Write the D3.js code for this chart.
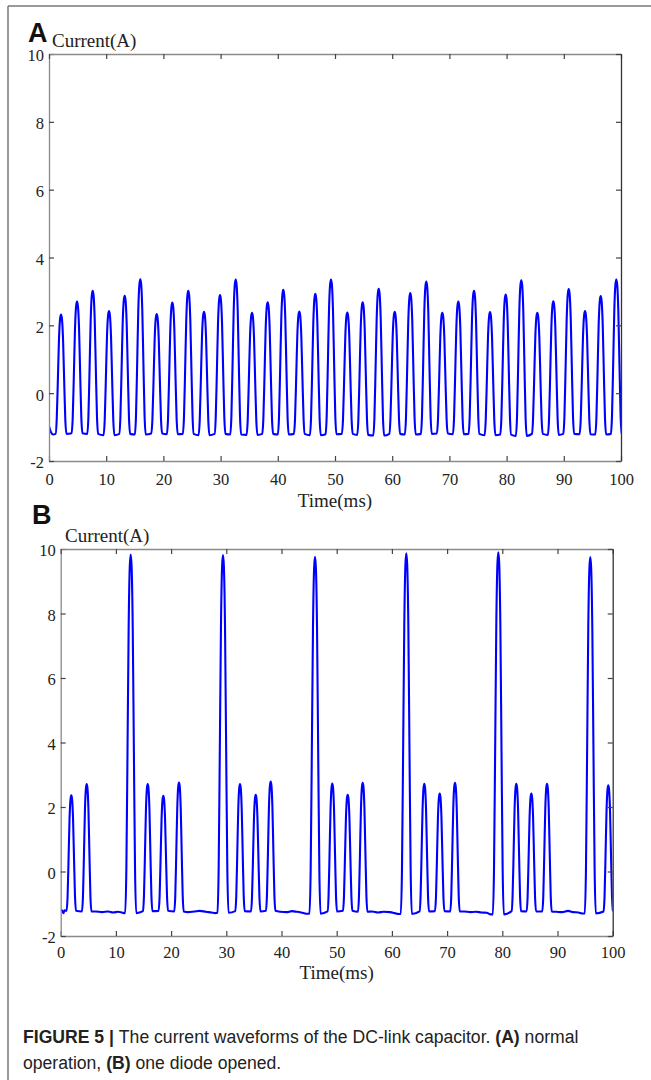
<!DOCTYPE html>
<html>
<head>
<meta charset="utf-8">
<script src="https://cdn.jsdelivr.net/npm/d3@7"></script>
<style>
  body { margin: 0; background: #fff; }
  svg { display: block; }
</style>
</head>
<body>
<div id="chart"></div>
<script>
// tick values shared by both panels
const xTicks = [0, 10, 20, 30, 40, 50, 60, 70, 80, 90, 100];
const yTicks = [-2, 0, 2, 4, 6, 8, 10];

// shape of one current pulse: [offset from peak (ms), fraction of the height above baseline]
const pulseShape = [[-0.95, 0], [-0.75, 0.12], [-0.55, 0.45], [-0.35, 0.8], [-0.15, 0.97], [0, 1],
    [0.15, 0.97], [0.35, 0.8], [0.55, 0.45], [0.75, 0.12], [0.95, 0]];

// (A) normal operation: peak times (ms), peak values (A), baseline before each pulse (A)
const peakTimesA = [2.10, 4.90, 7.64, 10.49, 13.23, 15.96, 18.83, 21.56, 24.35, 27.10, 29.90, 32.64,
    35.49, 38.23, 40.96, 43.76, 46.56, 49.30, 52.15, 54.84, 57.64, 60.44, 63.16, 65.96,
    68.76, 71.56, 74.30, 77.10, 79.84, 82.57, 85.37, 88.17, 90.86, 93.71, 96.45, 99.18];
const peakValuesA = [2.32, 2.70, 3.02, 2.42, 2.87, 3.36, 2.33, 2.67, 3.02, 2.40, 2.89, 3.35,
    2.37, 2.68, 3.05, 2.41, 2.93, 3.35, 2.38, 2.68, 3.08, 2.40, 2.95, 3.29,
    2.37, 2.70, 3.02, 2.39, 2.91, 3.33, 2.37, 2.71, 3.07, 2.42, 2.86, 3.35];
const baseA = [-1.2, -1.18, -1.2, -1.24, -1.2, -1.22, -1.19, -1.21, -1.2, -1.24, -1.2, -1.22,
    -1.23, -1.2, -1.22, -1.2, -1.24, -1.21, -1.2, -1.23, -1.25, -1.2, -1.22, -1.2,
    -1.19, -1.21, -1.2, -1.24, -1.22, -1.26, -1.2, -1.23, -1.2, -1.21, -1.22, -1.2];
const startA = [[0, -0.98], [0.35, -1.15], [0.7, -1.22]];

// (B) one diode opened
const peakTimesB = [1.92, 4.71, 12.68, 15.76, 18.59, 21.43, 29.40, 32.48, 35.33, 38.04, 46.07, 49.20,
    51.99, 54.71, 62.61, 65.87, 68.66, 71.43, 79.28, 82.54, 85.26, 88.10, 95.94, 99.20];
const peakValuesB = [2.36, 2.71, 9.83, 2.71, 2.35, 2.76, 9.81, 2.71, 2.38, 2.79, 9.76, 2.73,
    2.38, 2.75, 9.87, 2.72, 2.42, 2.75, 9.9, 2.72, 2.42, 2.72, 9.75, 2.67];
const baseB = [-1.22, -1.24, -1.29, -1.23, -1.22, -1.24, -1.28, -1.23, -1.24, -1.22, -1.31, -1.24,
    -1.22, -1.25, -1.32, -1.24, -1.23, -1.24, -1.33, -1.23, -1.24, -1.24, -1.3, -1.24];
const startB = [[0, -1.19], [0.3, -1.22], [0.5, -1.29], [0.7, -1.2]];
const gapPointsB = [[6.3, -1.24], [7.5, -1.26], [8.6, -1.24], [9.5, -1.27], [10.4, -1.25], [11.2, -1.28],
    [23.1, -1.26], [24.2, -1.24], [25.2, -1.22], [26.3, -1.25], [27.3, -1.27], [28.0, -1.29],
    [39.8, -1.25], [40.9, -1.26], [41.9, -1.23], [42.8, -1.25], [43.8, -1.28], [44.7, -1.31],
    [56.4, -1.24], [57.5, -1.27], [58.5, -1.25], [59.6, -1.26], [60.5, -1.29], [61.2, -1.32],
    [73.1, -1.24], [74.2, -1.26], [75.2, -1.25], [76.2, -1.27], [77.2, -1.28], [77.9, -1.33],
    [89.8, -1.25], [90.9, -1.26], [91.9, -1.22], [92.8, -1.26], [93.8, -1.27], [94.5, -1.3]];

function buildWave(start, times, values, bases, widthOf, extra) {
    let pts = start.slice();
    times.forEach((t, i) => {
        const w = widthOf(values[i]);
        pulseShape.forEach(([dt, f]) => pts.push([t + dt * w, bases[i] + f * (values[i] - bases[i])]));
    });
    pts = pts.concat(extra);
    pts.sort((a, b) => a[0] - b[0]);
    return pts;
}

const waveA = buildWave(startA, peakTimesA, peakValuesA, baseA, () => 1, []);
const waveB = buildWave(startB, peakTimesB, peakValuesB, baseB, v => v > 5 ? 1.05 : 0.9, gapPointsB);

const W = 651, H = 1080;
const serif = "'Liberation Serif', 'Times New Roman', serif";
const sans = "'Liberation Sans', Arial, sans-serif";

const svg = d3.select("#chart").append("svg")
    .attr("width", W)
    .attr("height", H)
    .style("background-color", "white");

// figure frame
svg.append("line").attr("x1", 8).attr("x2", W).attr("y1", 6).attr("y2", 6)
    .style("stroke", "#777").style("stroke-width", 1.5);
svg.append("line").attr("x1", 8).attr("x2", 8).attr("y1", 6).attr("y2", H)
    .style("stroke", "#777").style("stroke-width", 1.5);

function drawPanel(p, wave) {
    const x = d3.scaleLinear().domain([0, 100]).range([p.left, p.right]);
    const y = d3.scaleLinear().domain([-2, 10]).range([p.bottom, p.top]);

    const clipId = "clip" + p.letter;
    svg.append("clipPath").attr("id", clipId).append("rect")
        .attr("x", p.left).attr("y", p.top)
        .attr("width", p.right - p.left).attr("height", p.bottom - p.top);

    const line = d3.line()
        .x(d => x(d[0]))
        .y(d => y(d[1]))
        .curve(d3.curveMonotoneX);

    svg.append("path")
        .datum(wave)
        .attr("clip-path", `url(#${clipId})`)
        .attr("d", line)
        .style("fill", "none")
        .style("stroke", "#0000ff")
        .style("stroke-width", 2.1)
        .style("stroke-linejoin", "round");

    const bottom = svg.append("g")
        .attr("transform", `translate(0,${p.bottom})`)
        .call(d3.axisBottom(x).tickValues(xTicks).tickSizeInner(-5).tickSizeOuter(0).tickFormat(d => String(d)));
    bottom.selectAll("text").attr("y", p.tickLabelDy).attr("dy", null);

    const left = svg.append("g")
        .attr("transform", `translate(${p.left},0)`)
        .call(d3.axisLeft(y).tickValues(yTicks).tickSizeInner(-5).tickSizeOuter(0).tickFormat(d => String(d)));
    left.selectAll("text").attr("x", -5).attr("dy", "0.42em");

    const top = svg.append("g")
        .attr("transform", `translate(0,${p.top})`)
        .call(d3.axisTop(x).tickValues(xTicks).tickSizeInner(-5).tickSizeOuter(0).tickFormat(""));

    const right = svg.append("g")
        .attr("transform", `translate(${p.right},0)`)
        .call(d3.axisRight(y).tickValues(yTicks).tickSizeInner(-5).tickSizeOuter(0).tickFormat(""));

    [bottom, left, top, right].forEach(g => {
        g.selectAll("text").style("font-family", serif).style("font-size", "16.5px").style("fill", "#222");
        g.selectAll(".tick line").style("stroke", "#444").style("stroke-width", 1.2);
        g.select(".domain").style("stroke", "#8a8a8a").style("stroke-width", 1.3);
    });
    right.select(".domain").style("stroke", "#333");

    svg.append("text")
        .attr("x", (p.left + p.right) / 2)
        .attr("y", p.bottom + p.xTitleDy)
        .attr("text-anchor", "middle")
        .style("font-family", serif)
        .style("font-size", "19px")
        .style("fill", "#222")
        .text("Time(ms)");

    svg.append("text")
        .attr("x", p.yTitleX)
        .attr("y", p.yTitleY)
        .style("font-family", serif)
        .style("font-size", "19px")
        .style("fill", "#222")
        .text("Current(A)");

    svg.append("text")
        .attr("x", p.letterX)
        .attr("y", p.letterY)
        .style("font-family", sans)
        .style("font-weight", "bold")
        .style("font-size", "27px")
        .style("fill", "#111")
        .text(p.letter);
}

drawPanel({letter: "A", left: 49, right: 621, top: 54, bottom: 461, tickLabelDy: 23.5,
    xTitleDy: 46, yTitleX: 52, yTitleY: 47, letterX: 28, letterY: 42}, waveA);
drawPanel({letter: "B", left: 60.7, right: 612.7, top: 549, bottom: 936, tickLabelDy: 21.5,
    xTitleDy: 43, yTitleX: 65, yTitleY: 542, letterX: 32, letterY: 524}, waveB);

// caption
const caption = svg.append("g").style("font-family", sans).style("font-size", "17.6px").style("fill", "#222");
const line1 = caption.append("text").attr("x", 23).attr("y", 1043);
line1.append("tspan").style("font-weight", "bold").text("FIGURE 5 | ");
line1.append("tspan").text("The current waveforms of the DC-link capacitor. ");
line1.append("tspan").style("font-weight", "bold").text("(A)");
line1.append("tspan").text(" normal");
const line2 = caption.append("text").attr("x", 23).attr("y", 1069);
line2.append("tspan").text("operation, ");
line2.append("tspan").style("font-weight", "bold").text("(B)");
line2.append("tspan").text(" one diode opened.");
</script>
</body>
</html>
